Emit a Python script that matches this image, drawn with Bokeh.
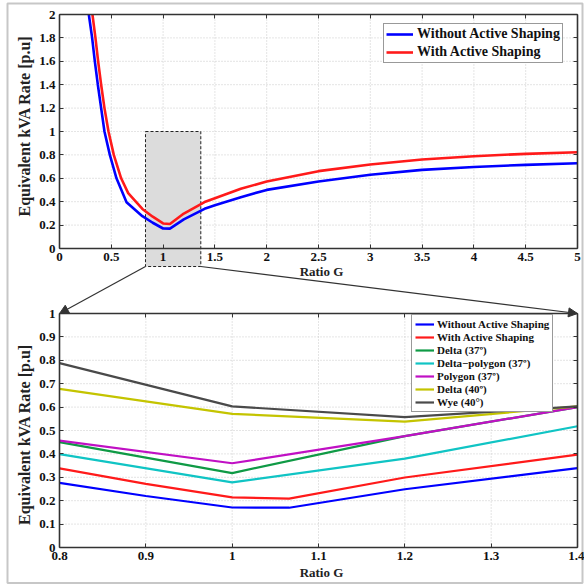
import math
from bokeh.plotting import figure
from bokeh.models import (Range1d, LinearAxis, FixedTicker, Legend, LegendItem, Label,
                          Arrow, NormalHead, BoxAnnotation)
from bokeh.embed import file_html
from bokeh.resources import INLINE

# ---------------- data ----------------
TOP_BLUE_X = [0.283, 0.315, 0.341, 0.370, 0.402, 0.434, 0.486, 0.550, 0.647, 0.8, 0.9, 1.0,
              1.066, 1.2, 1.4, 1.5, 1.75, 2.0, 2.5, 3.0, 3.5, 4.0, 4.5, 5.0]
TOP_BLUE_Y = [2.0, 1.8, 1.6, 1.4, 1.2, 1.0, 0.8, 0.6, 0.396, 0.276, 0.220, 0.171,
              0.170, 0.249, 0.339, 0.370, 0.439, 0.501, 0.573, 0.630, 0.672, 0.697, 0.715, 0.729]
TOP_RED_X = [0.318, 0.347, 0.373, 0.402, 0.434, 0.473, 0.524, 0.595, 0.663, 0.8, 0.9, 1.0,
             1.066, 1.2, 1.4, 1.5, 1.75, 2.0, 2.5, 3.0, 3.5, 4.0, 4.5, 5.0]
TOP_RED_Y = [2.0, 1.8, 1.6, 1.4, 1.2, 1.0, 0.8, 0.6, 0.473, 0.338, 0.272, 0.214,
             0.209, 0.299, 0.397, 0.430, 0.510, 0.573, 0.661, 0.718, 0.761, 0.789, 0.809, 0.823]

ZOOM_X_SHAPING = [0.8, 0.9, 1.0, 1.066, 1.2, 1.4]
ZOOM_WITHOUT = [0.276, 0.220, 0.171, 0.170, 0.249, 0.339]
ZOOM_WITH = [0.338, 0.272, 0.214, 0.209, 0.299, 0.397]
ZOOM_X = [0.8, 1.0, 1.2, 1.4]
DELTA_37 = [0.450, 0.318, 0.476, 0.600]
DELTA_POLY_37 = [0.399, 0.278, 0.380, 0.518]
POLYGON_37 = [0.457, 0.360, 0.476, 0.600]
DELTA_40 = [0.678, 0.571, 0.538, 0.603]
WYE_40 = [0.788, 0.603, 0.557, 0.603]

TOP_LABELS = ["Without Active Shaping", "With Active Shaping"]
BOT_LABELS = ["Without Active Shaping", "With Active Shaping", "Delta (37º)",
              "Delta\u2212polygon (37º)", "Polygon (37º)", "Delta (40º)", "Wye (40°)"]

TOP_XTICKS = [0, 0.5, 1, 1.5, 2, 2.5, 3, 3.5, 4, 4.5, 5]
TOP_XTICK_LABELS = ["0", "0.5", "1", "1.5", "2", "2.5", "3", "3.5", "4", "4.5", "5"]
TOP_YTICKS = [0, 0.2, 0.4, 0.6, 0.8, 1, 1.2, 1.4, 1.6, 1.8, 2]
TOP_YTICK_LABELS = ["0", "0.2", "0.4", "0.6", "0.8", "1", "1.2", "1.4", "1.6", "1.8", "2"]
BOT_XTICKS = [0.8, 0.9, 1.0, 1.1, 1.2, 1.3, 1.4]
BOT_XTICK_LABELS = ["0.8", "0.9", "1", "1.1", "1.2", "1.3", "1.4"]
BOT_YTICKS = [0, 0.1, 0.2, 0.3, 0.4, 0.5, 0.6, 0.7, 0.8, 0.9, 1]
BOT_YTICK_LABELS = ["0", "0.1", "0.2", "0.3", "0.4", "0.5", "0.6", "0.7", "0.8", "0.9", "1"]

TOP_XLIM, TOP_YLIM = (0.0, 5.0), (0.0, 2.0)
BOT_XLIM, BOT_YLIM = (0.8, 1.4), (0.0, 1.0)
ZOOM_BOX = dict(left=0.83, right=1.364, bottom=-0.154, top=1.0)  # in upper-plot data

# ---------------- layout (pixel geometry of the two axes boxes) ----------------
W = H = 584
PX_L, PX_R = 59, 577                 # left / right edge of both boxes
TOP_PX_T, TOP_PX_B = 14, 248         # upper box top / bottom
BOT_PX_T, BOT_PX_B = 313, 547        # lower box top / bottom


def lin(a0, a1, b0, b1):
    return lambda v: b0 + (v - a0) / (a1 - a0) * (b1 - b0)


# pixel -> data for each plot, so that the whole canvas is the frame
top_x_of_px = lin(PX_L, PX_R, *TOP_XLIM)
top_y_of_px = lin(TOP_PX_B, TOP_PX_T, *TOP_YLIM)
bot_x_of_px = lin(PX_L, PX_R, *BOT_XLIM)
bot_y_of_px = lin(BOT_PX_B, BOT_PX_T, *BOT_YLIM)
bot_px_of_x = lin(*BOT_XLIM, PX_L, PX_R)
bot_px_of_y = lin(*BOT_YLIM, BOT_PX_B, BOT_PX_T)

FONT = "Liberation Serif"
INK = "#333333"

p = figure(width=W, height=H,
           x_range=Range1d(bot_x_of_px(0), bot_x_of_px(W)),
           y_range=Range1d(bot_y_of_px(H), bot_y_of_px(0)),
           x_axis_type=None, y_axis_type=None, toolbar_location=None,
           output_backend="svg", min_border=0)
p.extra_x_ranges = {"tx": Range1d(top_x_of_px(0), top_x_of_px(W))}
p.extra_y_ranges = {"ty": Range1d(top_y_of_px(H), top_y_of_px(0))}
p.outline_line_color = None
p.background_fill_color = "white"
p.border_fill_color = "white"


def add_axis(side, ticks, labels, loc, bounds, xr, yr, show=True):
    ax = LinearAxis(fixed_location=loc, bounds=bounds, x_range_name=xr, y_range_name=yr,
                    ticker=FixedTicker(ticks=ticks, minor_ticks=[]),
                    major_label_overrides={t: l for t, l in zip(ticks, labels)},
                    major_tick_in=4, major_tick_out=0, minor_tick_in=0, minor_tick_out=0,
                    axis_line_color=INK, axis_line_width=1.6, major_tick_line_color=INK,
                    major_tick_line_width=1,
                    major_label_text_font=FONT, major_label_text_font_style="bold",
                    major_label_text_font_size="13px", major_label_text_color="#111111",
                    major_label_standoff=4)
    if not show:
        ax.major_label_text_color = None
    p.add_layout(ax, side)
    return ax


# grids (dotted)
GRID = dict(line_color="#c4c4c4", line_width=0.9, line_dash="1 2")
tgx = [t for t in TOP_XTICKS if TOP_XLIM[0] < t < TOP_XLIM[1]]
tgy = [t for t in TOP_YTICKS if TOP_YLIM[0] < t < TOP_YLIM[1]]
p.segment(x0=tgx, y0=[TOP_YLIM[0]] * len(tgx), x1=tgx, y1=[TOP_YLIM[1]] * len(tgx),
          x_range_name="tx", y_range_name="ty", **GRID)
p.segment(x0=[TOP_XLIM[0]] * len(tgy), y0=tgy, x1=[TOP_XLIM[1]] * len(tgy), y1=tgy,
          x_range_name="tx", y_range_name="ty", **GRID)
bgx = [t for t in BOT_XTICKS if BOT_XLIM[0] < t < BOT_XLIM[1]]
bgy = [t for t in BOT_YTICKS if BOT_YLIM[0] < t < BOT_YLIM[1]]
p.segment(x0=bgx, y0=[BOT_YLIM[0]] * len(bgx), x1=bgx, y1=[BOT_YLIM[1]] * len(bgx), **GRID)
p.segment(x0=[BOT_XLIM[0]] * len(bgy), y0=bgy, x1=[BOT_XLIM[1]] * len(bgy), y1=bgy, **GRID)

# zoom window
p.quad(left=[ZOOM_BOX["left"]], right=[ZOOM_BOX["right"]], bottom=[ZOOM_BOX["bottom"]],
       top=[ZOOM_BOX["top"]], fill_color="#dcdcdc", line_color="#222222", line_width=1,
       line_dash="3 2", x_range_name="tx", y_range_name="ty")

# upper plot curves (kept inside the upper box)
def clip_top(xs, ys):
    pts = [(x, y) for x, y in zip(xs, ys) if y <= TOP_YLIM[1]]
    return [a for a, _ in pts], [b for _, b in pts]

bx_, by_ = clip_top(TOP_BLUE_X, TOP_BLUE_Y)
rx_, ry_ = clip_top(TOP_RED_X, TOP_RED_Y)
rb = p.line(bx_, by_, line_color="#0000ff", line_width=2.6, x_range_name="tx", y_range_name="ty")
rr = p.line(rx_, ry_, line_color="#ff1a1a", line_width=2.6, x_range_name="tx", y_range_name="ty")

# lower plot lines
series = [(ZOOM_X_SHAPING, ZOOM_WITHOUT, "#0000ff"),
          (ZOOM_X_SHAPING, ZOOM_WITH, "#ff1a1a"),
          (ZOOM_X, DELTA_37, "#0f9a45"),
          (ZOOM_X, DELTA_POLY_37, "#10c4c4"),
          (ZOOM_X, POLYGON_37, "#c010c4"),
          (ZOOM_X, DELTA_40, "#c4c400"),
          (ZOOM_X, WYE_40, "#4a4a4a")]
bot_r = [p.line(xs, ys, line_color=c, line_width=2.2) for xs, ys, c in series]

# axes, upper plot
add_axis("left", TOP_YTICKS, TOP_YTICK_LABELS, TOP_XLIM[0], TOP_YLIM, "tx", "ty")
add_axis("below", TOP_XTICKS, TOP_XTICK_LABELS, TOP_YLIM[0], TOP_XLIM, "tx", "ty")
add_axis("right", TOP_YTICKS, TOP_YTICK_LABELS, TOP_XLIM[1], TOP_YLIM, "tx", "ty", show=False)
add_axis("above", TOP_XTICKS, TOP_XTICK_LABELS, TOP_YLIM[1], TOP_XLIM, "tx", "ty", show=False)
# axes, lower plot
add_axis("left", BOT_YTICKS, BOT_YTICK_LABELS, BOT_XLIM[0], BOT_YLIM, "default", "default")
add_axis("below", BOT_XTICKS, BOT_XTICK_LABELS, BOT_YLIM[0], BOT_XLIM, "default", "default")
add_axis("right", BOT_YTICKS, BOT_YTICK_LABELS, BOT_XLIM[1], BOT_YLIM, "default", "default", show=False)
add_axis("above", BOT_XTICKS, BOT_XTICK_LABELS, BOT_YLIM[1], BOT_XLIM, "default", "default", show=False)

# connectors from the zoom window to the lower box corners
for xs, corner_x in [(ZOOM_BOX["left"], BOT_XLIM[0]), (ZOOM_BOX["right"], BOT_XLIM[1])]:
    xe = top_x_of_px(bot_px_of_x(corner_x))
    ye = top_y_of_px(bot_px_of_y(BOT_YLIM[1]))
    p.add_layout(Arrow(x_start=xs, y_start=ZOOM_BOX["bottom"], x_end=xe, y_end=ye,
                       x_range_name="tx", y_range_name="ty", line_color=INK, line_width=1.2,
                       end=NormalHead(size=9, fill_color=INK, line_color=INK)))

# axis titles
LBL = dict(text_font=FONT, text_font_style="bold", text_color="#222222",
           x_range_name="tx", y_range_name="ty", text_align="center", text_baseline="middle")
for cy in (125.5, 434):
    p.add_layout(Label(x=top_x_of_px(24), y=top_y_of_px(cy), text="Equivalent kVA Rate [p.u]",
                       angle=math.pi / 2, text_font_size="16px", **LBL))
for cy in (271, 572):
    p.add_layout(Label(x=top_x_of_px(321), y=top_y_of_px(cy), text="Ratio G",
                       text_font_size="13px", **LBL))

# legends (location = bottom-left corner, measured from the canvas bottom-left)
LEG = dict(label_text_font=FONT, label_text_font_style="bold", label_text_color="#111111",
           border_line_color=INK, border_line_width=1, background_fill_color="white",
           background_fill_alpha=1, margin=0)
leg1 = Legend(items=[LegendItem(label=TOP_LABELS[0], renderers=[rb]),
                     LegendItem(label=TOP_LABELS[1], renderers=[rr])],
              location=(383, H - 63), label_text_font_size="14px", glyph_width=27,
              glyph_height=16, label_height=16, spacing=2, padding=2, label_standoff=4, **LEG)
leg2 = Legend(items=[LegendItem(label=l, renderers=[r]) for l, r in zip(BOT_LABELS, bot_r)],
              location=(411, H - 412), label_text_font_size="11px", glyph_width=19,
              glyph_height=12, label_height=12, spacing=1, padding=3, label_standoff=3, **LEG)
p.add_layout(leg1, "center")
p.add_layout(leg2, "center")

# outer frame of the figure
p.add_layout(BoxAnnotation(left=top_x_of_px(7), right=top_x_of_px(582),
                           top=top_y_of_px(3), bottom=top_y_of_px(582.5),
                           x_range_name="tx", y_range_name="ty", fill_color=None,
                           line_color="#444444", line_width=2))

open("out.html", "w").write(file_html(p, INLINE))
